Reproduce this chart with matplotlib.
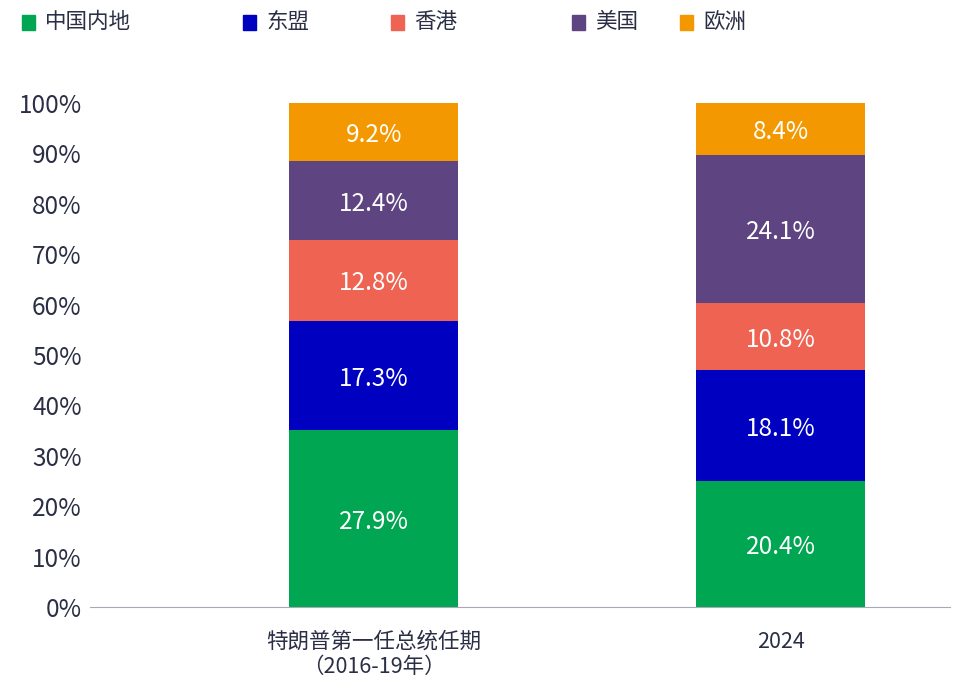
import numpy as np
import matplotlib.pyplot as plt
from matplotlib.patches import Rectangle

plt.rcParams['font.family'] = ['Noto Sans CJK SC', 'DejaVu Sans']

# raw shares shown as labels, bars are normalised to 100%
periods = ['特朗普第一任总统任期\n（2016-19年）', '2024']
regions = ['中国内地', '东盟', '香港', '美国', '欧洲']
china = [27.9, 20.4]
asean = [17.3, 18.1]
hongkong = [12.8, 10.8]
usa = [12.4, 24.1]
europe = [9.2, 8.4]
colors = ['#00A651', '#0000C0', '#EE6352', '#5E4582', '#F39800']

series = [china, asean, hongkong, usa, europe]
txt = '#2b2f45'

fig = plt.figure(figsize=(9.7, 6.9), dpi=100)
ax = fig.add_axes([0.0928, 0.1203, 0.8866, 0.7304])

x = np.arange(len(periods))
totals = np.sum(series, axis=0)
bottom = np.zeros(len(periods))
for vals, c in zip(series, colors):
    share = np.array(vals) / totals * 100
    ax.bar(x, share, bottom=bottom, width=0.415, color=c)
    for xi, b, s, v in zip(x, bottom, share, vals):
        ax.text(xi, b + s / 2, f'{v:.1f}%', ha='center', va='center_baseline',
                color='white', fontsize=17.5, fontweight='medium')
    bottom += share

ax.set_xlim(-0.697, 1.416)
ax.set_ylim(0, 100)
ax.set_yticks(np.arange(0, 101, 10))
ax.set_yticklabels([f'{v}%' for v in range(0, 101, 10)], fontsize=17.5, color=txt)
ax.set_xticks(x)
ax.set_xticklabels(periods, fontsize=15.5, color=txt, linespacing=1.2)
ax.tick_params(length=0)
ax.tick_params(axis='x', pad=17)
ax.tick_params(axis='y', pad=6)
for s in ['top', 'right', 'left']:
    ax.spines[s].set_visible(False)
ax.spines['bottom'].set_color('#a8a8b8')

# legend drawn by hand to match the uneven spacing
leg_x = [22, 243, 391, 572, 680]
for lx, name, c in zip(leg_x, regions, colors):
    fig.patches.append(Rectangle((lx / 970, 1 - 30 / 690), 13 / 970, 15 / 690,
                                 transform=fig.transFigure, color=c))
    fig.text((lx + 23) / 970, 1 - 22 / 690, name, fontsize=15.5, color=txt,
             va='center', ha='left')

fig.savefig('out.png', dpi=100)
